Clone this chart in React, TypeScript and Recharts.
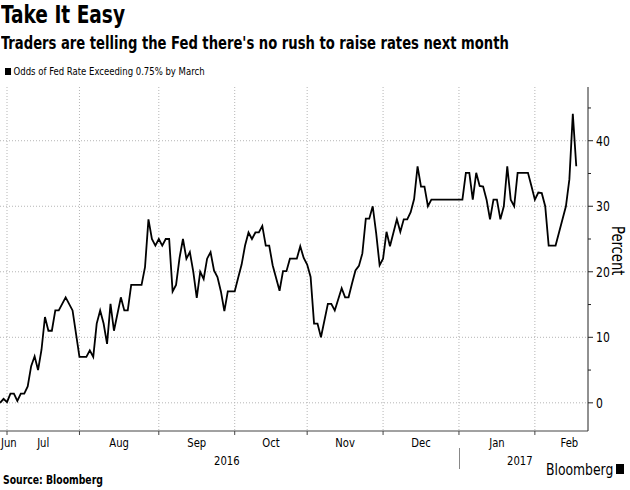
import { LineChart, Line, XAxis, YAxis, CartesianGrid } from 'recharts';

// business-day index, 0 = Jul 1 2016
const days = [
  -2, -1, 0, 1, 2, 3, 4, 5, 6, 7, 8, 9, 10, 11, 12, 13, 14, 15, 17, 19, 21, 23, 24, 25, 26, 27, 28, 29, 30, 31, 33,
  34, 35, 36, 39, 40, 41, 42, 43, 44, 45, 46, 47, 48, 49, 50, 51, 52, 53, 54, 55, 56, 57, 58, 59, 60, 61, 62, 63, 64,
  66, 67, 68, 69, 70, 71, 72, 73, 74, 75, 76, 77, 79, 80, 81, 82, 84, 85, 86, 87, 88, 89, 90, 91, 93, 94, 95, 97, 98,
  99, 100, 101, 102, 103, 104, 105, 106, 107, 108, 109, 110, 111, 113, 114, 115, 116, 117, 118, 119, 120, 121, 122,
  123, 132, 133, 134, 135, 136, 137, 138, 139, 140, 141, 142, 143, 144, 145, 146, 147, 148, 151, 152, 153, 154, 155,
  156, 157, 159, 160, 162, 163, 164, 165,
];
const odds = [
  0.0, 0.6, 0.1, 1.4, 1.4, 0.3, 1.4, 1.4, 2.5, 5.6, 7.1, 5.0, 8.1, 13.1, 11.0, 11.0, 14.1, 14.1, 16.1, 14.1, 7.0, 7.0,
  8.0, 7.0, 12.1, 14.1, 12.1, 9.0, 15.1, 11.0, 16.1,
  14.1, 14.1, 18.0, 18.0, 20.7, 28.0, 25.0, 24.0, 25.0, 24.0, 25.0, 25.0, 17.0, 18.0, 22.1, 25.0, 22.0, 23.0, 20.0,
  16.0, 20.0, 18.9, 22.0, 23.0, 20.2, 19.2, 17.0, 14.0, 17.0,
  17.0, 19.1, 21.1, 24.0, 26.0, 25.0, 26.0, 26.0, 27.0, 24.0, 24.0, 21.0, 17.1, 20.1, 20.1, 22.0, 22.0, 23.9, 22.1,
  21.1, 19.2, 12.1, 12.1, 10.0, 15.1, 15.1, 14.1, 17.5, 16.1,
  16.1, 18.2, 20.2, 20.9, 22.8, 28.1, 28.1, 30.0, 25.9, 21.0, 22.0, 26.1, 23.9, 28.0, 26.1, 28.0, 28.0, 29.1, 31.1,
  36.1, 33.0, 33.0, 30.0,
  31.0, 31.0, 35.1, 35.1, 31.0, 35.1, 33.1, 33.0, 31.0, 28.0, 31.0, 31.0, 28.0, 30.0, 36.1, 31.0, 30.0, 35.1, 35.1,
  33.1, 31.0, 32.1, 32.0,
  30.0, 24.0, 24.0, 26.0, 30.0, 34.1, 44.1, 36.1,
];

const monthStarts = [0, 21, 44, 66, 87, 109, 131, 153];
const monthMids = [-2.03, 10.5, 32.5, 55, 76.5, 98, 120, 142, 163];
const monthNames = ['Jun', 'Jul', 'Aug', 'Sep', 'Oct', 'Nov', 'Dec', 'Jan', 'Feb'];
const majorTicks = [0, 10, 20, 30, 40];
const yTicks = [0, 5, 10, 15, 20, 25, 30, 35, 40, 45];

const X_DOMAIN = [-2.03, 168.4];
const Y_DOMAIN = [-4.3, 48.2];

const FONT = "'DejaVu Sans Condensed', 'Liberation Sans Narrow', 'DejaVu Sans', sans-serif";
const NARROW = 0.86;

const data = days.map((d, i) => ({ day: d, odds: odds[i] }));
const xTicks = [...monthStarts, ...monthMids].sort((a, b) => a - b);

function MonthTick(props: any) {
  const { x, y, payload } = props;
  const mi = monthMids.indexOf(payload.value);
  if (mi >= 0) {
    return (
      <text
        transform={`translate(${x + (mi === 0 ? 1 : 0)},${y + 16}) scale(${NARROW},1)`}
        textAnchor={mi === 0 ? 'start' : 'middle'}
        fontSize={13}
        fill="#000"
        fontFamily={FONT}
      >
        {monthNames[mi]}
      </text>
    );
  }
  return <line x1={x} x2={x} y1={y} y2={y + 4} stroke="#444" strokeWidth={1} />;
}

function PctTick(props: any) {
  const { x, y, payload } = props;
  const major = payload.value % 10 === 0;
  return (
    <g>
      <line x1={x} x2={x + (major ? 5 : 3)} y1={y} y2={y} stroke="#222" strokeWidth={1} />
      {major && (
        <text transform={`translate(${x + 8},${y + 5}) scale(${NARROW},1)`} fontSize={14} fill="#000" fontFamily={FONT}>
          {payload.value}
        </text>
      )}
    </g>
  );
}

const narrowL = { transform: `scaleX(${NARROW})`, transformOrigin: 'left top', whiteSpace: 'nowrap' as const, lineHeight: 1 };

export default function App() {
  return (
    <div style={{ position: 'absolute', left: 0, top: 0, width: 630, height: 490, background: '#fff', fontFamily: FONT, color: '#000' }}>
      <LineChart width={630} height={490} data={data} margin={{ top: 87, right: 0, bottom: 29, left: 0 }}>
        <CartesianGrid
          stroke="#b5b5b5"
          strokeDasharray="1 2"
          horizontalValues={majorTicks}
          verticalValues={monthStarts}
        />
        <XAxis
          type="number"
          dataKey="day"
          domain={X_DOMAIN}
          allowDataOverflow
          ticks={xTicks}
          interval={0}
          tickLine={false}
          tickSize={0}
          tickMargin={0}
          tick={<MonthTick />}
          height={30}
          axisLine={{ stroke: '#444' }}
        />
        <YAxis
          orientation="right"
          domain={Y_DOMAIN}
          allowDataOverflow
          ticks={yTicks}
          interval={0}
          tickLine={false}
          tickSize={0}
          tickMargin={0}
          tick={<PctTick />}
          width={42}
          axisLine={{ stroke: '#222' }}
        />
        <Line type="linear" dataKey="odds" stroke="#000" strokeWidth={1.8} dot={false} isAnimationActive={false} />
      </LineChart>

      <div style={{ ...narrowL, position: 'absolute', left: 1, top: 3, fontSize: 24, fontWeight: 'bold' }}>Take It Easy</div>
      <div style={{ ...narrowL, position: 'absolute', left: 1, top: 35, fontSize: 17, fontWeight: 'bold' }}>
        Traders are telling the Fed there's no rush to raise rates next month
      </div>
      <div style={{ ...narrowL, position: 'absolute', left: 5, top: 66, fontSize: 11, display: 'flex', alignItems: 'center' }}>
        <span style={{ display: 'inline-block', width: 7, height: 7, background: '#000', marginRight: 3 }} />
        Odds of Fed Rate Exceeding 0.75% by March
      </div>
      <div
        style={{
          position: 'absolute',
          left: 609,
          top: 226,
          fontSize: 17,
          lineHeight: 1,
          whiteSpace: 'nowrap',
          writingMode: 'vertical-rl',
          transform: `scaleY(${NARROW})`,
          transformOrigin: 'center top',
        }}
      >
        Percent
      </div>
      <div style={{ ...narrowL, position: 'absolute', left: 214, top: 454, fontSize: 13 }}>2016</div>
      <div style={{ ...narrowL, position: 'absolute', left: 507, top: 454, fontSize: 13 }}>2017</div>
      <div style={{ position: 'absolute', left: 459, top: 448, width: 1, height: 21, background: '#888' }} />
      <div style={{ ...narrowL, position: 'absolute', left: 3, top: 474, fontSize: 12, fontWeight: 'bold' }}>Source: Bloomberg</div>
      <div style={{ ...narrowL, transformOrigin: 'right top', position: 'absolute', right: 17, top: 462, fontSize: 16 }}>Bloomberg</div>
      <div style={{ position: 'absolute', left: 616, top: 464, width: 8, height: 10, background: '#000' }} />
    </div>
  );
}
